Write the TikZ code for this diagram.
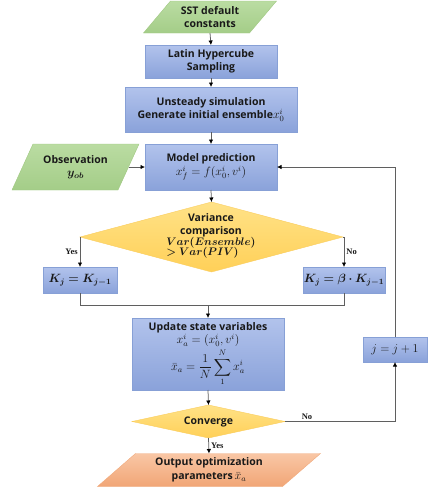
\documentclass[tikz,border=0pt]{standalone}
\usepackage{amsmath,bm}
\usepackage{fontspec}
\setmainfont{Open Sans}
\newfontfamily\lblfont{Liberation Serif}
\usetikzlibrary{shapes.geometric,arrows.meta,backgrounds,calc}
\definecolor{gtop}{RGB}{186,220,162}
\definecolor{gbot}{RGB}{164,205,136}
\definecolor{gline}{RGB}{160,200,130}
\definecolor{btop}{RGB}{178,195,236}
\definecolor{bbot}{RGB}{138,162,218}
\definecolor{bline}{RGB}{135,160,214}
\definecolor{ytop}{RGB}{255,226,135}
\definecolor{ybot}{RGB}{255,208,88}
\definecolor{yline}{RGB}{250,205,95}
\definecolor{otop}{RGB}{249,198,165}
\definecolor{obot}{RGB}{241,165,118}
\definecolor{oline}{RGB}{240,170,125}
\definecolor{lc}{RGB}{95,95,95}
\definecolor{txt}{RGB}{25,25,25}
\newcommand{\mth}[1]{{\fontsize{12}{14}\selectfont$#1$}}
\newcommand{\paragram}[5]{%
  \shade[top color=#3,bottom color=#4,draw=#5,line width=0.4pt]
    ($(#1.north west)+(#2,0)$) -- ($(#1.north east)+(#2,0)$) --
    ($(#1.south east)-(#2,0)$) -- ($(#1.south west)-(#2,0)$) -- cycle;}
\begin{document}
\begin{tikzpicture}[x=1pt,y=-1pt,
  mainfont/.style={font=\fontsize{10.5}{13.5}\selectfont\bfseries, text=txt},
  box/.style={rectangle, inner sep=0pt, outer sep=0pt, draw=bline, line width=0.5pt,
    top color=btop, bottom color=bbot, align=center, mainfont},
  paranode/.style={rectangle, inner sep=0pt, outer sep=0pt, align=center, mainfont},
  dia/.style={diamond, inner sep=0pt, outer sep=0pt, draw=yline, line width=0.4pt,
    top color=ytop, bottom color=ybot},
  line/.style={draw=lc, line width=0.75pt},
  arr/.style={line, -{Latex[length=4.5pt,width=4.5pt,color=black]}},
  lbl/.style={font=\lblfont\fontsize{8.5}{10}\selectfont\bfseries, text=txt, inner sep=2pt}]
\useasboundingbox (0,0) rectangle (429,488);

% nodes
\node[paranode, minimum width=106, minimum height=32] (sst) at (210,17) {SST default\\constants};
\node[box, minimum width=132, minimum height=33] (lhs) at (211,61.5) {Latin Hypercube\\Sampling};
\node[box, minimum width=172, minimum height=45] (uns) at (211,109.5)
  {Unsteady simulation\\Generate initial ensemble\mth{x_0^i}};
\node[box, minimum width=132, minimum height=46] (model) at (211,167)
  {Model prediction\\\mth{x_f^i = f(x_0^i, v^i)}};
\node[paranode, minimum width=106, minimum height=46] (obs) at (75.5,167)
  {Observation\\\mth{\boldsymbol{y_{ob}}}};
\node[dia, minimum width=263, minimum height=70] (var) at (211.5,237) {};
\node[mainfont, align=center, inner sep=0pt] (vartext) at (211,236.5)
  {Variance\\comparison\\[-1pt]
   {\fontsize{11}{12}\selectfont
   \begin{tabular}{@{}l@{}}$\boldsymbol{Var(Ensemble)}$\\[-2pt]$\boldsymbol{>Var(PIV)}$\end{tabular}}};
\node[box, minimum width=74, minimum height=26] (kleft) at (80,280) {\mth{\boldsymbol{K_j = K_{j-1}}}};
\node[box, minimum width=82, minimum height=26] (kright) at (344,280) {\mth{\boldsymbol{K_j = \beta\cdot K_{j-1}}}};
\coordinate (merge) at (208,305);
\node[box, minimum width=152, minimum height=72] (upd) at (208,354)
  {Update state variables\\[0pt]
   \mth{x_a^i = (x_0^i, v^i)}\\[1pt]
   \mth{\displaystyle \bar{x}_a = \frac{1}{N}\sum_{1}^{N} x_a^i}};
\node[dia, minimum width=153, minimum height=33] (conv) at (208.5,421.5) {};
\node[mainfont, inner sep=0pt] (convtext) at (conv.center) {Converge};
\node[box, minimum width=64, minimum height=25] (jbox) at (395,349.5) {\mth{j = j+1}};
\node[paranode, minimum width=185, minimum height=33] (outp) at (209,470)
  {Output optimization\\[1pt]parameters\,\mth{\bar{x}_a}};

% parallelograms
\begin{scope}[on background layer]
  \paragram{sst}{13.5}{gtop}{gbot}{gline}
  \paragram{obs}{10.5}{gtop}{gbot}{gline}
  \paragram{outp}{19}{otop}{obot}{oline}
\end{scope}

% connectors
\draw[arr] (sst.south) -- (lhs.north);
\draw[arr] (lhs.south) -- (uns.north);
\draw[arr] (uns.south) -- (model.north);
\draw[arr] (obs.east) -- (model.west);
\draw[arr] (model.south) -- (var.north);
\draw[arr] (var.west) -| node[lbl, left, pos=0.75] {Yes} (kleft.north);
\draw[arr] (var.east) -| node[lbl, right, pos=0.75] {No} (kright.north);
\draw[line] (kleft.south) |- (merge);
\draw[line] (kright.south) |- (merge);
\draw[arr] (merge) -- (upd.north);
\draw[arr] (upd.south) -- (conv.north);
\draw[arr] (conv.south) -- node[lbl, right] {Yes} (outp.north);
\draw[arr] (conv.east) -| node[lbl, above, pos=0.1] {No} (jbox.south);
\draw[arr] (jbox.north) |- (model.east);
\end{tikzpicture}
\end{document}
